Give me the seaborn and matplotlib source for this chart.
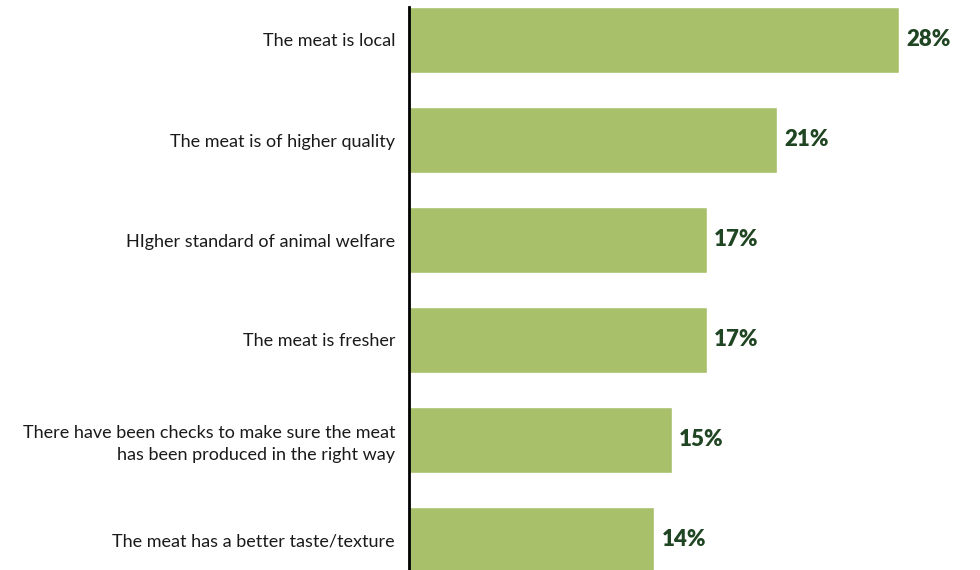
import matplotlib
matplotlib.use("Agg")
import matplotlib.pyplot as plt
import seaborn as sns
import pandas as pd

reasons = [
    "The meat is local",
    "The meat is of higher quality",
    "HIgher standard of animal welfare",
    "The meat is fresher",
    "There have been checks to make sure the meat\nhas been produced in the right way",
    "The meat has a better taste/texture",
]
shares = [28, 21, 17, 17, 15, 14]

df = pd.DataFrame({"reason": reasons, "share": shares})

sns.set_theme(style="white")
plt.rcParams["font.family"] = ["Lato", "DejaVu Sans"]

fig = plt.figure(figsize=(9.8, 5.7), dpi=100)
ax = fig.add_axes([409 / 980, 0.0, 1 - 409 / 980, 1 - 7 / 570])

sns.barplot(data=df, x="share", y="reason", orient="h", color="#a9c06a",
            saturation=1, width=0.66, ax=ax)

ax.set_xlim(0, 32.6)
ax.set_ylim(5.30, -0.33)

for i, v in enumerate(shares):
    ax.text(v + 0.42, i, f"{v}%", va="center", ha="left", fontsize=16,
            fontweight="heavy", color="#1f4522")

ax.set_xlabel("")
ax.set_ylabel("")
ax.set_xticks([])
ax.tick_params(axis="y", length=0, pad=10, labelsize=13, labelcolor="#1a1a1a")
for lbl in ax.get_yticklabels():
    lbl.set_horizontalalignment("right")
    lbl.set_multialignment("right")
    lbl.set_linespacing(1.45)

for side in ["top", "right", "bottom"]:
    ax.spines[side].set_visible(False)
ax.spines["left"].set_color("black")
ax.spines["left"].set_linewidth(2)

fig.savefig("out.png", dpi=100)
